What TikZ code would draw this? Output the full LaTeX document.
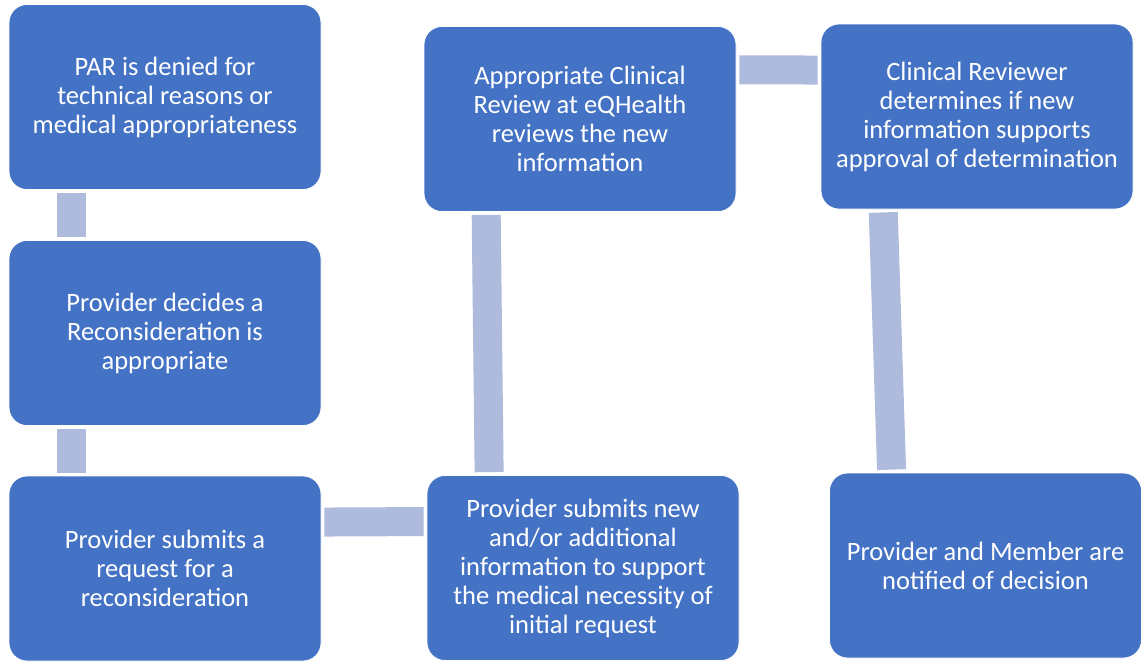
\documentclass[tikz,border=0pt]{standalone}
\usepackage{fontspec}
\setmainfont{Carlito}
\usetikzlibrary{calc}
\definecolor{stepblue}{HTML}{4472C4}
\definecolor{linkblue}{HTML}{AFBBDD}
\begin{document}
\begin{tikzpicture}[x=1pt, y=-1pt, line join=round,
  box/.style={fill=stepblue, draw=white, line width=0.8pt, rounded corners=18pt,
    minimum width=312pt, minimum height=185pt, inner sep=0pt, align=center,
    text=white, font=\fontsize{26.5}{29}\selectfont},
  link/.style={draw=linkblue, line width=29pt, shorten <=3pt, shorten >=3pt}]
\def\w{0.2} \def\h{0.25}
\useasboundingbox (0,0) rectangle (1144,665);
% left column
\node[box] (par) at (165,97) {PAR is denied for\\technical reasons or\\medical appropriateness};
\node[box] (decide) at (165,333) {Provider decides a\\Reconsideration is\\appropriate};
\node[box] (request) at (165,568.5) {Provider submits a\\request for a\\reconsideration};
% middle column
\node[box] (newinfo) at (583,568) {Provider submits new\\and/or additional\\information to support\\the medical necessity of\\initial request};
\node[box] (review) at (580,119) {Appropriate Clinical\\Review at eQHealth\\reviews the new\\information};
% right column
\node[box] (reviewer) at (977,116.5) {Clinical Reviewer\\determines if new\\information supports\\approval of determination};
\node[box] (notify) at (985.5,565.5) {Provider and Member are\\notified of decision};
% connectors
\draw[link] ($(par.south west)!\w!(par.south east)$)--($(decide.north west)!\w!(decide.north east)$);
\draw[link] ($(decide.south west)!\w!(decide.south east)$)--($(request.north west)!\w!(request.north east)$);
\draw[link] ($(request.north east)!\h!(request.south east)$)--($(newinfo.north west)!\h!(newinfo.south west)$);
\draw[link] ($(newinfo.north west)!\w!(newinfo.north east)$)--($(review.south west)!\w!(review.south east)$);
\draw[link] ($(review.north east)!0.235!(review.south east)$)--($(reviewer.north west)!\h!(reviewer.south west)$);
\draw[link] ($(reviewer.south west)!\w!(reviewer.south east)$)--($(notify.north west)!\w!(notify.north east)$);
\end{tikzpicture}
\end{document}
